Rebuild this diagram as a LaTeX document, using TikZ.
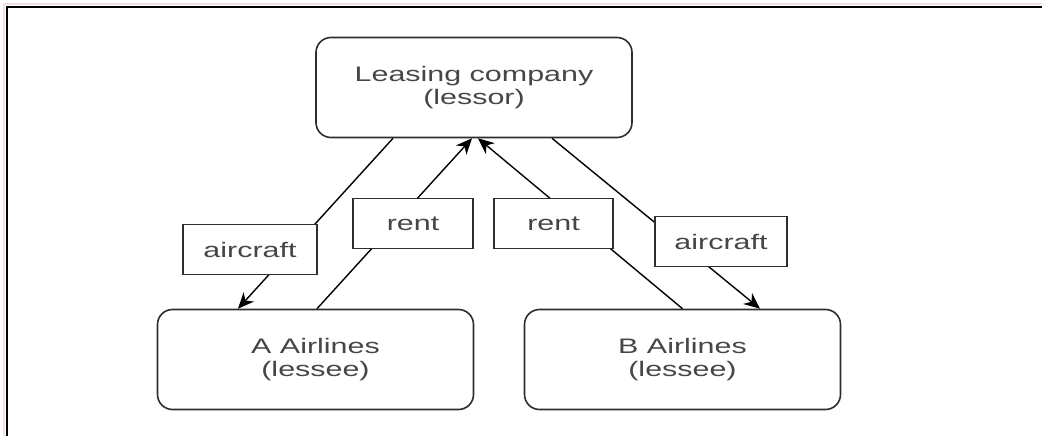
\documentclass[tikz,border=0pt]{standalone}
\usepackage{fontspec}
\setmainfont{Liberation Sans}[FakeStretch=1.45]
\usetikzlibrary{arrows.meta}
\definecolor{boxline}{RGB}{45,45,45}
\definecolor{txtgray}{RGB}{70,70,70}
\definecolor{framepink}{RGB}{242,222,234}

\begin{document}
\begin{tikzpicture}[x=1pt, y=-1pt,
  party/.style={draw=boxline, line width=1.6pt, rounded corners=15pt,
    minimum width=316pt, minimum height=100pt, align=center,
    text=txtgray, font=\fontsize{21}{23}\selectfont},
  tag/.style={draw=boxline, line width=1.5pt, fill=white,
    minimum height=50pt, text=txtgray, font=\fontsize{21}{23}\selectfont},
  flow/.style={draw=black, line width=1.4pt},
  >={Stealth[length=16pt, width=14pt, inset=5pt]}]
\useasboundingbox (0,0) rectangle (1042,436);

% page frame
\draw[framepink, line width=2pt] (4,436) -- (4,4) -- (1042,4);
\draw[black, line width=2pt] (7,436) -- (7,7) -- (1042,7);

% lessor and lessees
\node[party] (lease) at (474,87.5) {Leasing company\\(lessor)};
\node[party] (airA) at (315.5,359.5) {A Airlines\\ (lessee)};
\node[party] (airB) at (682.5,359.5) {B Airlines\\ (lessee)};

% what goes where
\draw[flow,->] ([xshift=-81pt]lease.south) -- ([xshift=-77.5pt]airA.north);
\draw[flow,->] ([xshift=1.5pt]airA.north) -- ([xshift=-2pt]lease.south);
\draw[flow,->] (airB.north) -- ([xshift=4pt]lease.south);
\draw[flow,->] ([xshift=78pt]lease.south) -- ([xshift=77.5pt]airB.north);

% labels sit on top of the lines
\node[tag, minimum width=134pt] (airL) at (250,249.5) {aircraft};
\node[tag, minimum width=120pt] (rentL) at (413,223.5) {rent};
\node[tag, minimum width=119pt] (rentR) at (553.5,223.5) {rent};
\node[tag, minimum width=132pt] (airR) at (721,241.5) {aircraft};

\end{tikzpicture}
\end{document}
